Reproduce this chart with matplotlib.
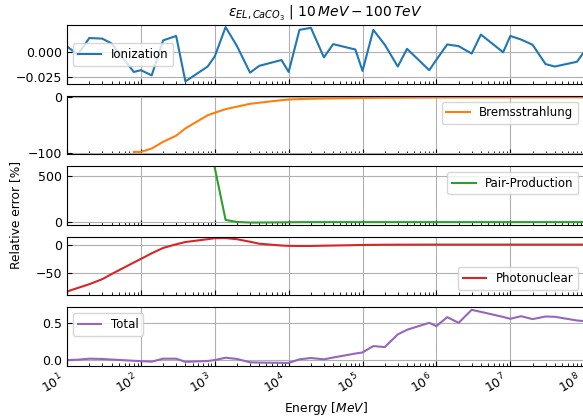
import numpy as np
import matplotlib.pyplot as plt

nan = np.nan

# energy grid in MeV
energy = [1e1, 1.4e1, 2e1, 3e1, 4e1, 8e1,
          1e2, 1.4e2, 2e2, 3e2, 4e2, 8e2,
          1e3, 1.4e3, 2e3, 3e3, 4e3, 8e3,
          1e4, 1.4e4, 2e4, 3e4, 4e4, 8e4,
          1e5, 1.4e5, 2e5, 3e5, 4e5, 8e5,
          1e6, 1.4e6, 2e6, 3e6, 4e6, 8e6,
          1e7, 1.4e7, 2e7, 3e7, 4e7, 8e7,
          1e8]

ionization = [0.005, -0.003, 0.0133, 0.0127, 0.008, -0.020,
              -0.0183, -0.0233, 0.011, 0.0153, -0.0293, -0.0147,
              -0.0047, 0.024, 0.0053, -0.0207, -0.014, -0.0083,
              -0.020, 0.0213, 0.0233, -0.0057, 0.0073, 0.002,
              -0.019, 0.0213, 0.0067, -0.0147, 0.0027, -0.0183,
              -0.008, 0.007, 0.0053, -0.002, 0.0167, -0.0007,
              0.0153, 0.0118, 0.0067, -0.0123, -0.0147, -0.010,
              0.0]

bremsstrahlung = [nan, nan, nan, nan, nan, -98,
                  -98, -92, -80, -69, -56, -32.5,
                  -28, -21.5, -17, -12, -10, -5.5,
                  -4.3, -3.5, -3.0, -2.5, -2.2, -1.7,
                  -1.5, -1.3, -1.1, -1.0, -0.9, -0.7,
                  -0.6, -0.55, -0.5, -0.45, -0.42, -0.4,
                  -0.38, -0.36, -0.35, -0.33, -0.32, -0.3,
                  -0.3]

pair_production = [nan, nan, nan, nan, nan, nan,
                   nan, nan, nan, nan, nan, nan,
                   590, 25, 3, -3, -3, -1,
                   0, 1, 1.5, 1.5, 1.5, 1.5,
                   1.5, 1.5, 1.5, 1.5, 1.5, 1.5,
                   1.5, 1.5, 1.5, 1.5, 1.5, 1.5,
                   1.5, 1.5, 1.5, 1.5, 1.5, 1.5,
                   1.5]

photonuclear = [-83, -76.6, -70, -61, -52, -31.5,
                -25, -15, -5.5, 1, 5, 10,
                11.8, 12, 10, 5.5, 2, -1.2,
                -1.8, -2, -2, -1.5, -1.2, -0.5,
                -0.2, 0.0, 0.2, 0.3, 0.3, 0.4,
                0.4, 0.4, 0.4, 0.4, 0.4, 0.4,
                0.4, 0.4, 0.4, 0.4, 0.4, 0.4,
                0.4]

total = [-0.005, 0.0, 0.014, 0.01, 0.002, -0.015,
         -0.02, -0.027, 0.014, 0.014, -0.03, -0.018,
         -0.005, 0.027, 0.01, -0.036, -0.04, -0.043,
         -0.045, 0.005, 0.023, 0.005, 0.03, 0.085,
         0.10, 0.188, 0.174, 0.349, 0.413, 0.509,
         0.463, 0.587, 0.509, 0.688, 0.66, 0.59,
         0.564, 0.60, 0.56, 0.596, 0.592, 0.541,
         0.532]

series = [
    ("Ionization", ionization, "C0", "center left", (-0.0317, 0.026), [-0.025, 0.0]),
    ("Bremsstrahlung", bremsstrahlung, "C1", "upper right", (-102.5, 2.7), [-100, 0]),
    ("Pair-Production", pair_production, "C2", "upper right", (-29, 608), [0, 500]),
    ("Photonuclear", photonuclear, "C3", "lower right", (-90, 14.5), [-50, 0]),
    ("Total", total, "C4", "upper left", (-0.087, 0.724), [0.0, 0.5]),
]

plt.rcParams["font.size"] = 8.8

fig, axes = plt.subplots(5, 1, sharex=True, figsize=(5.83, 4.18), dpi=100)
fig.subplots_adjust(left=0.115, right=1.002, top=0.940, bottom=0.1244, hspace=0.2)

for ax, (name, vals, color, loc, ylim, yticks) in zip(axes, series):
    ax.plot(energy, vals, color=color, label=name)
    ax.set_xscale("log")
    ax.set_xlim(1e1, 1e8)
    ax.set_ylim(*ylim)
    ax.set_yticks(yticks)
    ax.grid(True)
    ax.tick_params(which="both", direction="in", labelsize=9)
    ax.legend(loc=loc, fontsize=8.5)

axes[0].set_title(r"$\varepsilon_{EL, CaCO_3}$ | $10\,MeV - 100\,TeV$", fontsize=10)
axes[-1].set_xlabel(r"Energy [$MeV$]", labelpad=2)
fig.text(0.026, 0.485, "Relative error [%]", rotation=90, va="center", ha="center")

for lbl in axes[-1].get_xticklabels():
    lbl.set_rotation(30)
    lbl.set_ha("right")

fig.savefig("out.png", dpi=100)
